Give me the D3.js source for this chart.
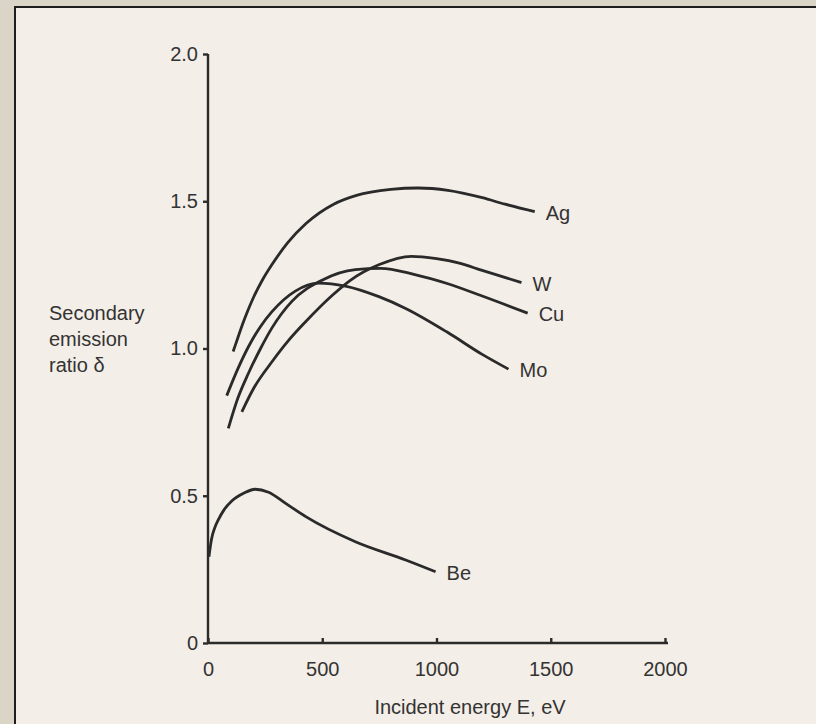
<!DOCTYPE html>
<html>
<head>
<meta charset="utf-8">
<script src="https://cdn.jsdelivr.net/npm/d3@7"></script>
<style>
    body { margin: 0; background: #dbd5c8; }
    svg { display: block; }
    .axis path, .axis line { stroke: #2b2b2b; stroke-width: 2.4; }
    .axis text { font-family: "Liberation Sans", Arial, sans-serif; font-size: 20px; fill: #333; }
    .curve { fill: none; stroke: #2a2a2a; stroke-width: 2.8; }
    .label { font-family: "Liberation Sans", Arial, sans-serif; font-size: 20px; fill: #333; }
</style>
</head>
<body>
<script>
// values (energy in eV, delta)
var xTicks = [0, 500, 1000, 1500, 2000];
var yTicks = [0, 0.5, 1.0, 1.5, 2.0];
var yTickLabels = ["0", "0.5", "1.0", "1.5", "2.0"];

var metals = ["Ag", "W", "Cu", "Mo", "Be"];

var energyAg = [110, 130, 150, 175, 200, 240, 280, 350, 430, 550, 650, 800, 920, 1050, 1200, 1300, 1430];
var deltaAg  = [0.99, 1.035, 1.08, 1.13, 1.175, 1.235, 1.285, 1.36, 1.425, 1.49, 1.52, 1.54, 1.545, 1.537, 1.512, 1.49, 1.465];

var energyW = [148, 200, 280, 350, 426, 543, 620, 750, 890, 1000, 1100, 1200, 1372];
var deltaW  = [0.785, 0.865, 0.955, 1.025, 1.09, 1.18, 1.23, 1.285, 1.313, 1.305, 1.29, 1.265, 1.224];

var energyCu = [89, 130, 177, 230, 280, 367, 499, 645, 755, 901, 1050, 1194, 1399];
var deltaCu  = [0.729, 0.83, 0.916, 1.0, 1.07, 1.16, 1.232, 1.268, 1.272, 1.252, 1.22, 1.18, 1.12];

var energyMo = [82, 130, 177, 230, 280, 382, 484, 601, 748, 865, 1048, 1200, 1315];
var deltaMo  = [0.84, 0.93, 1.006, 1.075, 1.125, 1.195, 1.222, 1.212, 1.176, 1.136, 1.055, 0.98, 0.93];

var energyBe = [4, 16, 30, 45, 70, 104, 160, 206, 265, 340, 426, 645, 865, 996];
var deltaBe  = [0.293, 0.355, 0.392, 0.418, 0.452, 0.482, 0.51, 0.522, 0.512, 0.474, 0.43, 0.344, 0.282, 0.242];

var w = 816;
var h = 724;

function pairs(xs, ys) {
    return xs.map(function(x, i) { return { e: x, d: ys[i] }; });
}

var series = [
    { name: metals[0], values: pairs(energyAg, deltaAg) },
    { name: metals[1], values: pairs(energyW, deltaW) },
    { name: metals[2], values: pairs(energyCu, deltaCu) },
    { name: metals[3], values: pairs(energyMo, deltaMo) },
    { name: metals[4], values: pairs(energyBe, deltaBe) }
];

var xScale = d3.scaleLinear().domain([0, 2000]).range([208, 665]);
var yScale = d3.scaleLinear().domain([0, 2]).range([643, 54]);

var svg = d3.select("body")
            .append("svg")
            .attr("width", w)
            .attr("height", h);

// page panel with its dark edge
svg.append("rect")
   .attr("x", 15).attr("y", 7)
   .attr("width", w).attr("height", h)
   .attr("fill", "#f3eee7")
   .attr("stroke", "#1e1e1e")
   .attr("stroke-width", 2);

var xAxis = d3.axisBottom(xScale)
              .tickValues(xTicks)
              .tickSize(-5)
              .tickPadding(19)
              .tickFormat(d3.format("d"));

var yAxis = d3.axisLeft(yScale)
              .tickValues(yTicks)
              .tickSize(5)
              .tickPadding(5)
              .tickFormat(function(d, i) { return yTickLabels[i]; });

svg.append("g")
   .attr("class", "axis")
   .attr("transform", "translate(0," + yScale(0) + ")")
   .call(xAxis)
   .call(function(g) { g.select(".domain").attr("d", "M" + xScale(0) + ",0H" + (xScale(2000) + 3)); });

svg.append("g")
   .attr("class", "axis")
   .attr("transform", "translate(" + xScale(0) + ",0)")
   .call(yAxis)
   .call(function(g) { g.select(".domain").attr("d", "M0," + yScale(0) + "V" + yScale(2)); });

var line = d3.line()
             .curve(d3.curveMonotoneX)
             .x(function(d) { return xScale(d.e); })
             .y(function(d) { return yScale(d.d); });

svg.selectAll(".curve")
   .data(series)
   .enter()
   .append("path")
   .attr("class", "curve")
   .attr("d", function(d) { return line(d.values); });

// metal names at the end of each curve
svg.selectAll(".name")
   .data(series)
   .enter()
   .append("text")
   .attr("class", "label name")
   .attr("x", function(d) { return xScale(d.values[d.values.length - 1].e) + 11; })
   .attr("y", function(d) { return yScale(d.values[d.values.length - 1].d) + 8; })
   .text(function(d) { return d.name; });

// axis titles
svg.append("text")
   .attr("class", "label")
   .attr("x", 470)
   .attr("y", 714)
   .attr("font-size", "21px")
   .attr("text-anchor", "middle")
   .text("Incident energy E, eV");

var yTitle = svg.append("text")
                .attr("class", "label")
                .attr("x", 49)
                .attr("y", 320);
["Secondary", "emission", "ratio \u03b4"].forEach(function(t, i) {
    yTitle.append("tspan")
          .attr("x", 49)
          .attr("dy", i === 0 ? 0 : 26)
          .text(t);
});
</script>
</body>
</html>
